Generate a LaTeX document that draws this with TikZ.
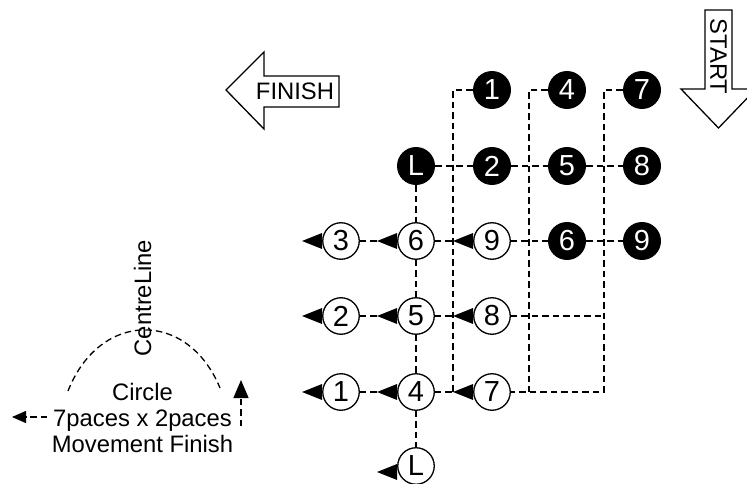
\documentclass[tikz,border=0pt]{standalone}
\usepackage{fontspec}
\setmainfont{Liberation Sans}
\usetikzlibrary{arrows.meta,calc}
\newcommand\ahead[2][0]{\fill ($(#2.west)+(0,#1)$) ++(0,-8) -- ++(0,16) -- ++(-20,-8) -- cycle;}
\begin{document}
\begin{tikzpicture}[x=1pt,y=-1pt,
  txt/.style={font=\fontsize{23.8}{26}\selectfont},
  num/.style={font=\fontsize{29}{30}\selectfont},
  wc/.style={circle,draw,fill=white,line width=1.3pt,minimum size=36.5pt,inner sep=0pt,num},
  bc/.style={circle,fill=black,text=white,minimum size=38pt,inner sep=0pt,num},
  dl/.style={line width=1.3pt,dash pattern=on 6.5pt off 4pt},
  bigarrow/.style={draw,line width=1.3pt,line join=miter}]
\useasboundingbox (0,0) rectangle (747,484);
% big arrows
\draw[bigarrow] (226,90) -- (264,52) -- (264,76) -- (339,76) -- (339,107) -- (264,107) -- (264,129) -- cycle;
\node[txt] (fin) at (295,91.5) {FINISH};
\draw[bigarrow] (705,10) -- (732,10) -- (732,89) -- (756,89) -- (718.5,128) -- (681,89) -- (705,89) -- cycle;
\node[txt,rotate=-90] (st) at (718.5,56.5) {START};
% circles
\node[bc] (b1) at (492,90) {1};
\node[bc] (b4) at (567,90) {4};
\node[bc] (b7) at (642,90) {7};
\node[bc] (bL) at (416,166) {L};
\node[bc] (b2) at (492,166) {2};
\node[bc] (b5) at (567,166) {5};
\node[bc] (b8) at (642,166) {8};
\node[wc] (w3) at (341,241) {3};
\node[wc] (w6) at (416,241) {6};
\node[wc] (w9) at (492,241) {9};
\node[bc] (b6) at (567,241) {6};
\node[bc] (b9) at (642,241) {9};
\node[wc] (w2) at (341,316) {2};
\node[wc] (w5) at (416,316) {5};
\node[wc] (w8) at (492,316) {8};
\node[wc] (w1) at (341,392) {1};
\node[wc] (w4) at (416,392) {4};
\node[wc] (w7) at (492,392) {7};
\node[wc] (wL) at (416,466) {L};
% corner coordinates
\coordinate (tA) at (453,90);
\coordinate (bA) at (453,392);
\coordinate (tB) at (529,90);
\coordinate (bB) at (529,392);
\coordinate (tC) at (604,90);
\coordinate (bC) at (604,392);
\coordinate (mC) at (604,316);
% dashed connectors
\draw[dl] (b1.west) -- (tA) -- (bA);
\draw[dl] (b4.west) -- (tB) -- (bB);
\draw[dl] (b7.west) -- (tC) -- (bC) -- (w7.east);
\draw[dl] (w8.east) -- (mC);
\draw[dl] (bL) -- (b2);
\draw[dl] (b2) -- (b5);
\draw[dl] (b5) -- (b8);
\draw[dl] (w3) -- (w6);
\draw[dl] (w6) -- (w9);
\draw[dl] (w9) -- (b6);
\draw[dl] (b6) -- (b9);
\draw[dl] (w2) -- (w5);
\draw[dl] (w5) -- (w8);
\draw[dl] (w1) -- (w4);
\draw[dl] (w4) -- (w7);
\draw[dl] (bL) -- (w6);
\draw[dl] (w6) -- (w5);
\draw[dl] (w5) -- (w4);
\draw[dl] (w4) -- (wL);
% arrowheads
\ahead{w3}\ahead{w6}\ahead{w9}
\ahead{w2}\ahead{w5}\ahead{w8}
\ahead{w1}\ahead{w4}\ahead{w7}
\ahead[6]{wL}
% left part
\node[txt,rotate=90] (cl) at (142.5,298) {CentreLine};
\coordinate (a1) at (68,391);
\coordinate (a2) at (220,388);
\draw[dl] (a1) .. controls (100,310) and (188,310) .. (a2);
\node[txt,align=center] (circ) at (142.5,418) {Circle\\7paces x 2paces\\Movement Finish};
\coordinate (la1) at (47,417);
\coordinate (la2) at (12,417);
\draw[dl,-{Triangle[length=14pt,width=12pt]}] (la1) -- (la2);
\coordinate (ua1) at (241,426);
\coordinate (ua2) at (241,380);
\draw[dl,-{Triangle[length=18pt,width=15pt]}] (ua1) -- (ua2);
\end{tikzpicture}
\end{document}
